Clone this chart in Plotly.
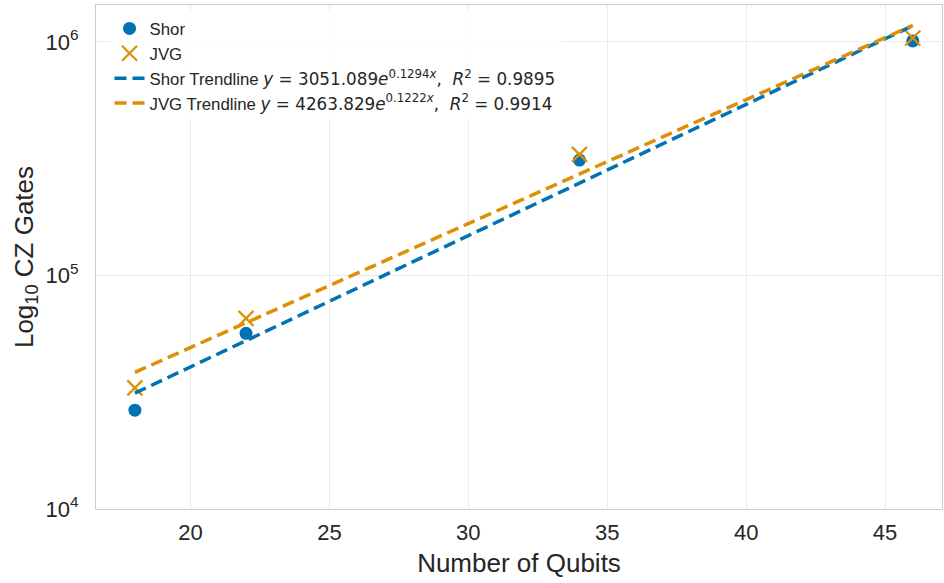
import numpy as np
import plotly.graph_objects as go

# Qubit counts and CZ gate counts per circuit family
qubits = [18, 22, 34, 46]
shor_gates = [26500, 56500, 312000, 1010000]
jvg_gates = [33000, 65500, 330000, 1040000]

# Exponential fit coefficients y = a * exp(b * x)
shor_a, shor_b, shor_r2 = 3051.089, 0.1294, 0.9895
jvg_a, jvg_b, jvg_r2 = 4263.829, 0.1222, 0.9914

x_ticks = [20, 25, 30, 35, 40, 45]
y_ticks = [1e4, 1e5, 1e6]
y_tick_text = ["10<sup>4</sup>", "10<sup>5</sup>", "10<sup>6</sup>"]

BLUE = "#0173b2"
ORANGE = "#de8f05"
FONT = "Liberation Sans, Arial, sans-serif"
MATH = "font-family:'DejaVu Sans'"


def fit_label(prefix, a, b, r2):
    return (f"{prefix} Trendline <span style=\"{MATH}\"><i>y</i> = {a:.3f}<i>e</i>"
            f"<sup>{b:.4f}<i>x</i></sup>,  <i>R</i><sup>2</sup> = {r2:.4f}</span>")


x_fit = np.linspace(min(qubits), max(qubits), 50)
shor_fit = shor_a * np.exp(shor_b * x_fit)
jvg_fit = jvg_a * np.exp(jvg_b * x_fit)

fig = go.Figure()
fig.add_trace(go.Scatter(
    x=qubits, y=shor_gates, mode="markers", name="Shor",
    marker=dict(color=BLUE, size=13, symbol="circle", line=dict(width=0)),
))
fig.add_trace(go.Scatter(
    x=qubits, y=jvg_gates, mode="markers", name="JVG",
    marker=dict(color=ORANGE, size=15, symbol="x-thin",
                line=dict(width=2.2, color=ORANGE)),
))
fig.add_trace(go.Scatter(
    x=x_fit, y=shor_fit, mode="lines",
    name=fit_label("Shor", shor_a, shor_b, shor_r2),
    line=dict(color=BLUE, width=3.5, dash="12px,6px"),
))
fig.add_trace(go.Scatter(
    x=x_fit, y=jvg_fit, mode="lines",
    name=fit_label("JVG", jvg_a, jvg_b, jvg_r2),
    line=dict(color=ORANGE, width=3.5, dash="12px,6px"),
))

fig.update_layout(
    width=944, height=583,
    margin=dict(l=96, r=2, t=5, b=74),
    paper_bgcolor="white", plot_bgcolor="white",
    font=dict(family=FONT, color="#262626"),
    showlegend=True,
    legend=dict(
        x=0.016, y=0.988, xanchor="left", yanchor="top",
        bgcolor="rgba(255,255,255,0.8)", borderwidth=0,
        font=dict(size=16.8, family=FONT, color="#262626"),
        tracegroupgap=0,
    ),
)
fig.update_xaxes(
    range=[16.6, 47.05], tickvals=x_ticks,
    tickfont=dict(size=22), ticks="", ticklen=0, ticklabelstandoff=3,
    showgrid=True, gridcolor="#ebebeb", gridwidth=1,
    showline=True, linecolor="#cccccc", linewidth=1.3, mirror=True,
    zeroline=False,
    title=dict(text="Number of Qubits", font=dict(size=26), standoff=10),
)
fig.update_yaxes(
    type="log", range=[4, 6.158],
    tickvals=y_ticks, ticktext=y_tick_text,
    tickfont=dict(size=22), ticks="", ticklen=0, ticklabelstandoff=12,
    showgrid=True, gridcolor="#ebebeb", gridwidth=1,
    showline=True, linecolor="#cccccc", linewidth=1.3, mirror=True,
    zeroline=False,
    title=dict(text="Log<sub>10</sub> CZ Gates", font=dict(size=26), standoff=4),
)

fig.write_html("out.html")
